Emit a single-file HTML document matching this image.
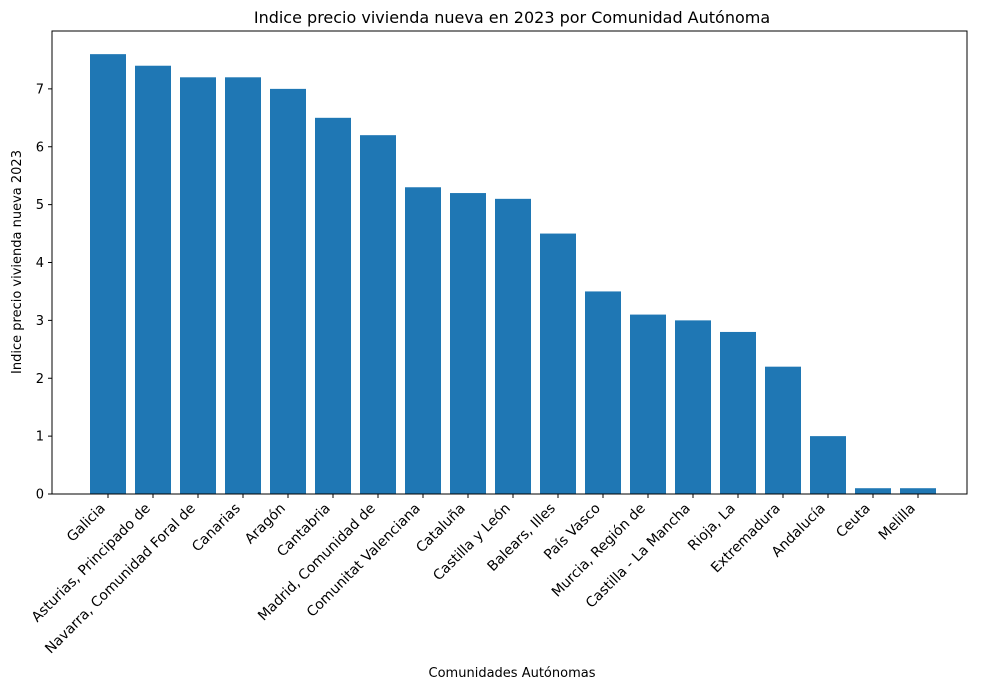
<!DOCTYPE html>
<html><head><meta charset="utf-8"><style>
body{margin:0;background:#fff;font-family:"Liberation Sans","DejaVu Sans",sans-serif;}
text{font-family:"DejaVu Sans","Liberation Sans",sans-serif;fill:#000;}
</style></head><body>
<svg id="chart" width="988" height="688" xmlns="http://www.w3.org/2000/svg">
<text x="512" y="23" font-size="16" text-anchor="middle">Indice precio vivienda nueva en 2023 por Comunidad Autónoma</text>
<text x="512" y="677" font-size="13" text-anchor="middle">Comunidades Autónomas</text>
<text transform="translate(21,262) rotate(-90)" font-size="13" text-anchor="middle">Indice precio vivienda nueva 2023</text>
<g id="bars"></g><g id="xt"></g><g id="yt"></g>
<rect x="52" y="31" width="915" height="463" fill="none" stroke="#000" stroke-width="1"/>
</svg>
<script>
const categories=["Galicia","Asturias, Principado de","Navarra, Comunidad Foral de","Canarias","Aragón","Cantabria","Madrid, Comunidad de","Comunitat Valenciana","Cataluña","Castilla y León","Balears, Illes","País Vasco","Murcia, Región de","Castilla - La Mancha","Rioja, La","Extremadura","Andalucía","Ceuta","Melilla"];
const values=[7.6,7.4,7.2,7.2,7.0,6.5,6.2,5.3,5.2,5.1,4.5,3.5,3.1,3.0,2.8,2.2,1.0,0.1,0.1];
const yTicks=[0,1,2,3,4,5,6,7];
const NS="http://www.w3.org/2000/svg";
const x0=52,x1=967,y0=494,y1=31,n=categories.length;
const step=45,first=108;
const xs=i=>first+i*step;
const yMax=8.0;
const ys=v=>y0-v/yMax*(y0-y1);
const bw=0.8*step;
const bars=document.getElementById('bars'),xt=document.getElementById('xt'),yt=document.getElementById('yt');
values.forEach((v,i)=>{
 const r=document.createElementNS(NS,'rect');
 r.setAttribute('x',xs(i)-bw/2);r.setAttribute('y',ys(v));r.setAttribute('width',bw);r.setAttribute('height',y0-ys(v));r.setAttribute('fill','#1f77b4');
 
 
 bars.appendChild(r);
});
categories.forEach((c,i)=>{
 const l=document.createElementNS(NS,'line');
 l.setAttribute('x1',xs(i));l.setAttribute('x2',xs(i));l.setAttribute('y1',y0);l.setAttribute('y2',y0+4);l.setAttribute('stroke','#000');
 xt.appendChild(l);
 const t=document.createElementNS(NS,'text');
 t.setAttribute('transform','translate('+(xs(i)-2)+','+(y0+15)+') rotate(-45)');
 t.setAttribute('text-anchor','end');t.setAttribute('font-size','14');t.textContent=c;
 
 
 xt.appendChild(t);
});
yTicks.forEach(v=>{
 const l=document.createElementNS(NS,'line');
 l.setAttribute('x1',x0-4);l.setAttribute('x2',x0);l.setAttribute('y1',ys(v));l.setAttribute('y2',ys(v));l.setAttribute('stroke','#000');
 yt.appendChild(l);
 const t=document.createElementNS(NS,'text');
 t.setAttribute('x',x0-8);t.setAttribute('y',ys(v)+4.5);t.setAttribute('text-anchor','end');t.setAttribute('font-size','13');t.textContent=v;
 
 
 yt.appendChild(t);
});
</script>
</body></html>
